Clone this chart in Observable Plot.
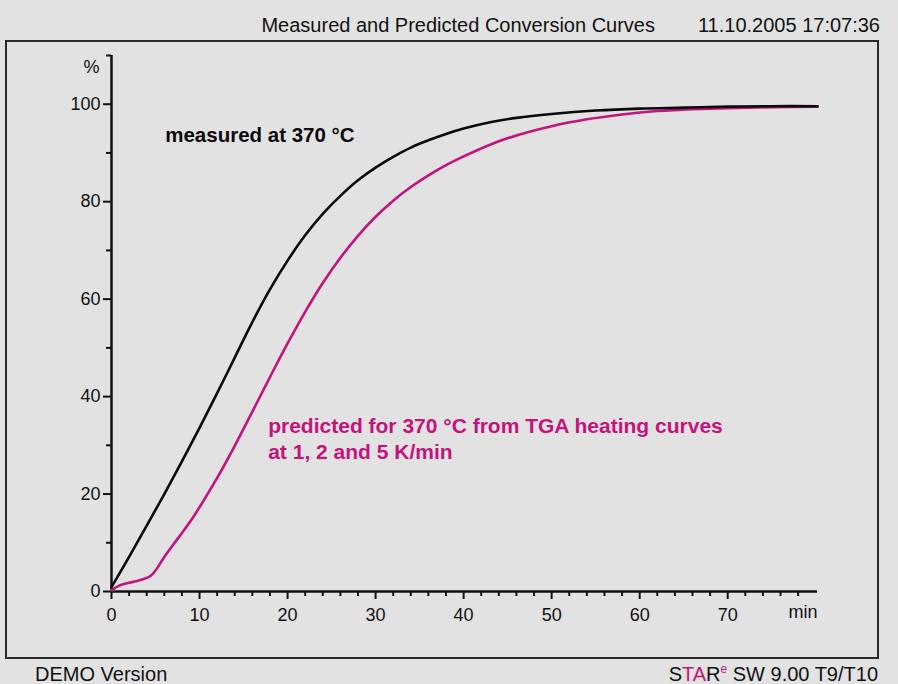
<!DOCTYPE html>
<html>
<head>
<meta charset="utf-8">
<script src="https://cdn.jsdelivr.net/npm/d3@7"></script>
<script src="https://cdn.jsdelivr.net/npm/@observablehq/plot@0.6"></script>
<style>
  html, body { margin: 0; padding: 0; background: #e2e2e2; }
  #page { position: relative; width: 898px; height: 684px; overflow: hidden; background: #e2e2e2; font-family: "Liberation Sans", Arial, sans-serif; color: #111; }
  #box { position: absolute; left: 5px; top: 40px; width: 874px; height: 619px; border: 2px solid #2b2b2b; box-sizing: border-box; }
  #chart { position: absolute; left: 0; top: 0; }
  .title { position: absolute; top: 13px; font-size: 20px; line-height: 24px; white-space: nowrap; }
  .foot { position: absolute; top: 663px; font-size: 20px; line-height: 22px; white-space: nowrap; }
  .mag { color: #c4137c; }
  sup { font-size: 12px; line-height: 0; vertical-align: 8px; }
</style>
</head>
<body>
<div id="page">
  <div id="box"></div>
  <div id="chart"></div>
  <div class="title" style="right:243px">Measured and Predicted Conversion Curves</div>
  <div class="title" style="right:18px">11.10.2005 17:07:36</div>
  <div class="foot" style="left:35px">DEMO Version</div>
  <div class="foot" style="right:20px">S<span class="mag">TA</span>R<sup class="mag">e</sup> SW 9.00 T9/T10</div>
</div>
<script>
// Measured conversion at 370 °C (time in min, conversion in %)
const measuredTime = [0, 2, 4, 6, 8, 10, 12, 14, 16, 18, 20, 22, 24, 26, 28, 30, 32, 34, 36, 38, 40, 43, 46, 50, 55, 60, 65, 70, 75, 80.2];
const measuredConv = [0.9, 7.1, 13.5, 20.0, 26.7, 33.6, 40.7, 48.0, 55.3, 62.0, 67.9, 73.1, 77.5, 81.2, 84.4, 87.0, 89.2, 91.1, 92.6, 93.9, 95.0, 96.3, 97.2, 98.0, 98.7, 99.1, 99.3, 99.5, 99.6, 99.6];

// Predicted conversion for 370 °C from TGA heating curves at 1, 2 and 5 K/min
const predictedTime = [0, 1, 2, 3, 4, 4.5, 5, 6, 7, 8, 9, 10, 12, 14, 16, 18, 20, 22, 24, 26, 28, 30, 32, 34, 36, 38, 40, 43, 46, 50, 54, 58, 62, 66, 70, 75, 80.2];
const predictedConv = [0.3, 1.3, 1.8, 2.2, 2.8, 3.3, 4.3, 7.1, 9.6, 12, 14.5, 17.3, 23.3, 29.9, 36.9, 44.0, 50.9, 57.4, 63.3, 68.5, 73.0, 76.9, 80.2, 83.0, 85.4, 87.5, 89.3, 91.7, 93.6, 95.5, 96.9, 97.9, 98.6, 99.0, 99.2, 99.4, 99.5];

// Tick labels
const yMajorTicks = [0, 20, 40, 60, 80, 100];
const yMinorTicks = [10, 30, 50, 70, 90, 110];
const xMajorTicks = [0, 10, 20, 30, 40, 50, 60, 70];
const xMinorTicks = [2, 4, 6, 8, 12, 14, 16, 18, 22, 24, 26, 28, 32, 34, 36, 38, 42, 44, 46, 48, 52, 54, 56, 58, 62, 64, 66, 68, 72, 74, 76, 78];

const labelMeasured = "measured at 370 °C";
const labelPredicted = "predicted for 370 °C from TGA heating curves\nat 1, 2 and 5 K/min";

const measured = measuredTime.map((t, i) => ({t, c: measuredConv[i]}));
const predicted = predictedTime.map((t, i) => ({t, c: predictedConv[i]}));

const magenta = "#c4137c";

const plot = Plot.plot({
  width: 898,
  height: 684,
  marginLeft: 111,
  marginRight: 81,
  marginTop: 55,
  marginBottom: 93,
  style: {background: "transparent", fontFamily: "'Liberation Sans', Arial, sans-serif", fontSize: "18px", color: "#111"},
  x: {domain: [0, 80.2], label: null},
  y: {domain: [0, 110], label: null},
  marks: [
    Plot.axisY({ticks: yMajorTicks, tickSize: 8, tickPadding: 3, strokeWidth: 2, fontSize: 18, tickFormat: d => d}),
    Plot.axisY({ticks: yMinorTicks, tickSize: 5, strokeWidth: 2, tickFormat: () => ""}),
    Plot.axisX({ticks: xMajorTicks, tickSize: 8, tickPadding: 9, strokeWidth: 2, fontSize: 18, tickFormat: d => d}),
    Plot.axisX({ticks: xMinorTicks, tickSize: 5, strokeWidth: 2, tickFormat: () => ""}),
    Plot.ruleX([0], {stroke: "#111", strokeWidth: 2.5}),
    Plot.ruleY([0], {stroke: "#111", strokeWidth: 2.5}),
    Plot.text(["min"], {frameAnchor: "bottom-right", textAnchor: "end", dy: 26, fontSize: 18, fill: "#111"}),
    Plot.text(["%"], {frameAnchor: "top-left", textAnchor: "middle", dx: -20, dy: 5, fontSize: 18, fill: "#111"}),
    Plot.line(predicted, {x: "t", y: "c", stroke: magenta, strokeWidth: 2.6, curve: "catmull-rom"}),
    Plot.line(measured, {x: "t", y: "c", stroke: "#0a0a0a", strokeWidth: 2.6, curve: "catmull-rom"}),
    Plot.text([labelMeasured], {x: 6.1, y: 93.6, textAnchor: "start", fontSize: 20.5, fontWeight: "bold", fill: "#0a0a0a"}),
    Plot.text([labelPredicted], {x: 17.8, y: 31.6, textAnchor: "start", fontSize: 21, fontWeight: "bold", fill: magenta, lineHeight: 1.25})
  ]
});
document.getElementById("chart").appendChild(plot);
</script>
</body>
</html>
